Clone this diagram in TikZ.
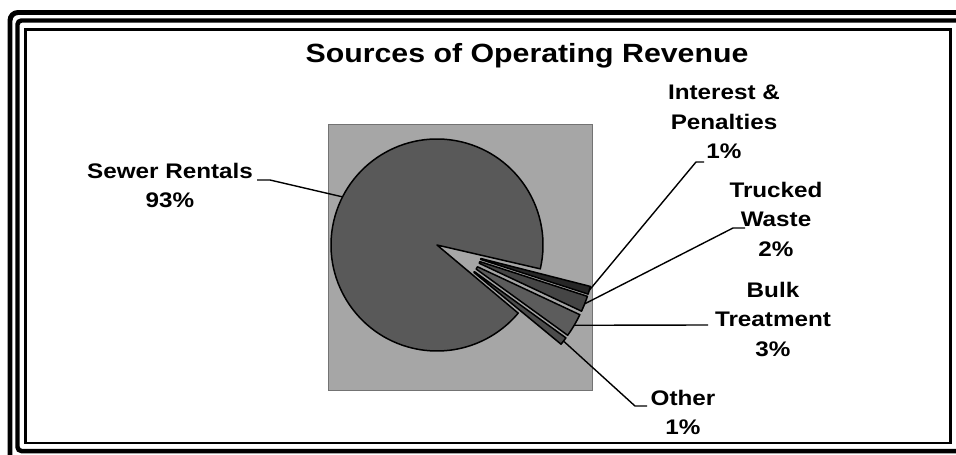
\documentclass[tikz,border=0pt]{standalone}
\usepackage{fontspec}
\setmainfont{Liberation Sans}[FakeStretch=1.15]

\begin{document}
\begin{tikzpicture}[x=0.02cm, y=0.02cm,
        fetta/.style={draw=black, line width=0.03cm, line join=round},
        guida/.style={draw=black, line width=0.028cm},
        etichetta/.style={anchor=north, align=center, inner sep=0pt, font=\bfseries\fontsize{12}{16.7}\selectfont}]
        \useasboundingbox (0,0) rectangle (956,454);
        \clip (0,0) rectangle (956,454);

        % Cornice
        \draw[line width=0.1cm, rounded corners=0.16cm] (10,-30) rectangle (990,441.5);
        \draw[line width=0.09cm, rounded corners=0.08cm] (17.5,3) rectangle (985,433.5);
        \draw[line width=0.05cm] (25.5,11) rectangle (950.5,424.5);

        % Titolo
        \node[anchor=north, inner sep=0pt, font=\bfseries\fontsize{15}{18}\selectfont] (titolo) at (527,411) {Sources of Operating Revenue};

        % Sfondo del grafico
        \draw[fill=black!35, draw=black!55, line width=0.02cm] (328,64) rectangle (592,330);

        % Fetta grande
        \coordinate (C) at (437,209);      % centro torta
        \draw[fetta, fill=black!65] (C) -- ++(-13:106) arc[start angle=-13, end angle=320, radius=106] -- cycle;
        \coordinate (f-fog) at (342.6,257.1);

        % Fette staccate
        \begin{scope}[shift={(C)}, shift={(-26.6:7)}, shift={(-16.1:25)}]
            \draw[fetta, fill=black!85] (-14.3:14) -- (-14.3:127) arc[start angle=-14.3, end angle=-17.9, radius=127] -- (-17.9:14) -- cycle;
            \coordinate (f-int) at (-16.1:127);
        \end{scope}
        \begin{scope}[shift={(C)}, shift={(-26.6:7)}, shift={(-21.5:25)}]
            \draw[fetta, fill=black!73] (-17.9:14) -- (-17.9:127) arc[start angle=-17.9, end angle=-25.1, radius=127] -- (-25.1:14) -- cycle;
            \coordinate (f-tra) at (-21.5:127);
        \end{scope}
        \begin{scope}[shift={(C)}, shift={(-26.6:7)}, shift={(-30.5:25)}]
            \draw[fetta, fill=black!64] (-25.1:14) -- (-25.1:127) arc[start angle=-25.1, end angle=-35.9, radius=127] -- (-35.9:14) -- cycle;
            \coordinate (f-sfu) at (-30.5:127);
        \end{scope}
        \begin{scope}[shift={(C)}, shift={(-26.6:7)}, shift={(-37.7:25)}]
            \draw[fetta, fill=black!70] (-35.9:14) -- (-35.9:127) arc[start angle=-35.9, end angle=-39.5, radius=127] -- (-39.5:14) -- cycle;
            \coordinate (f-alt) at (-37.7:127);
        \end{scope}

        % Etichette
        \node[etichetta] (fognature) at (170,291) {Sewer Rentals\\93\%};
        \node[etichetta] (interessi) at (724,369) {Interest \&\\Penalties\\1\%};
        \node[etichetta] (trasporto) at (776,272) {Trucked\\Waste\\2\%};
        \node[etichetta] (sfuso) at (773,172) {Bulk\\Treatment\\3\%};
        \node[etichetta] (altro) at (683,64) {Other\\1\%};

        % Linee guida
        \coordinate (g-fog) at (270,274);  \coordinate (p-fog) at (257,274);
        \coordinate (g-int) at (696,292);  \coordinate (p-int) at (704,292);
        \coordinate (g-tra) at (733,226);  \coordinate (p-tra) at (745,226);
        \coordinate (p-sfu) at (708,129);
        \coordinate (g-alt) at (635,48);   \coordinate (p-alt) at (647,48);
        \draw[guida] (f-fog) -- (g-fog) -- (p-fog);
        \draw[guida] (f-int) -- (g-int) -- (p-int);
        \draw[guida] (f-tra) -- (g-tra) -- (p-tra);
        \draw[guida] (f-sfu) -- (p-sfu);
        \draw[guida] (f-alt) -- (g-alt) -- (p-alt);
    \end{tikzpicture}
\end{document}
